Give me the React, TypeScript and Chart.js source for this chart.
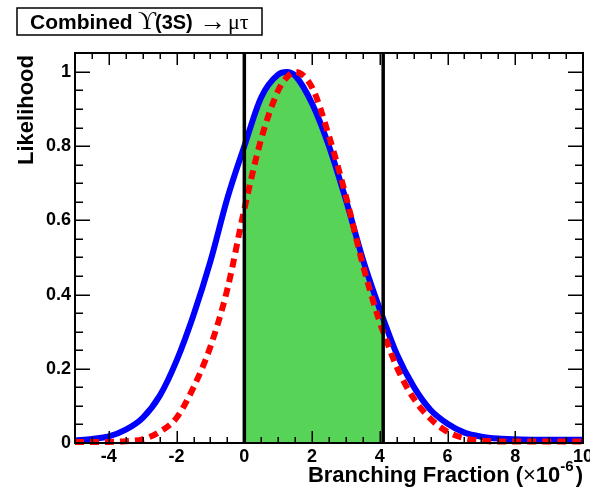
import React, { useEffect, useRef } from "react";
import { Chart, registerables } from "chart.js";

Chart.register(...registerables);

// ---- data ----
const xValues = [-5, -4.5, -4, -3.5, -3, -2.5, -2, -1.5, -1, -0.5, 0, 0.5, 1, 1.25, 1.5, 2, 2.5, 3, 3.5, 4, 4.1, 4.5, 5, 5.5, 6, 6.5, 7, 7.5, 8, 8.5, 9, 9.5, 10];
const blueLikelihood = [0.007, 0.011, 0.018, 0.036, 0.068, 0.127, 0.222, 0.345, 0.49, 0.66, 0.80, 0.932, 0.993, 1.0, 0.99, 0.915, 0.80, 0.655, 0.495, 0.36, 0.335, 0.24, 0.152, 0.089, 0.052, 0.028, 0.017, 0.012, 0.010, 0.009, 0.009, 0.009, 0.009];
const redLikelihood = [0.003, 0.003, 0.003, 0.005, 0.010, 0.030, 0.068, 0.150, 0.26, 0.415, 0.63, 0.82, 0.95, 0.985, 1.0, 0.958, 0.827, 0.665, 0.48, 0.325, 0.30, 0.205, 0.12, 0.065, 0.03, 0.013, 0.006, 0.004, 0.004, 0.004, 0.004, 0.004, 0.004];
const intervalLow = 0;
const intervalHigh = 4.1;

const xTickValues = [-4, -2, 0, 2, 4, 6, 8, 10];
const xTickLabels = ["-4", "-2", "0", "2", "4", "6", "8", "10"];
const yTickValues = [0, 0.2, 0.4, 0.6, 0.8, 1];
const yTickLabels = ["0", "0.2", "0.4", "0.6", "0.8", "1"];
const xMin = -5;
const xMax = 10;
const yMin = 0;
const yMax = 1.051;

const SANS = '"Liberation Sans", Arial, Helvetica, sans-serif';
const SERIF = '"Liberation Serif", "DejaVu Serif", "Times New Roman", serif';

const rootFramePlugin = {
  id: "rootFrame",
  afterDraw(chart: any) {
    const { ctx, chartArea: a, scales } = chart;
    const xs = scales.x;
    const ys = scales.y;
    ctx.save();
    ctx.strokeStyle = "#000";
    ctx.fillStyle = "#000";

    // ticks (inward, on all four sides)
    ctx.lineWidth = 1.5;
    ctx.beginPath();
    for (let i = 0; i <= Math.round((xMax - xMin) / 0.5); i++) {
      const v = xMin + i * 0.5;
      const px = Math.round(xs.getPixelForValue(v)) + 0.25;
      const major = Math.abs(v / 2 - Math.round(v / 2)) < 1e-9;
      const len = major ? 12 : 6;
      ctx.moveTo(px, a.bottom);
      ctx.lineTo(px, a.bottom - len);
      ctx.moveTo(px, a.top);
      ctx.lineTo(px, a.top + len);
    }
    for (let i = 0; i * 0.05 <= yMax + 1e-9; i++) {
      const v = i * 0.05;
      const py = Math.round(ys.getPixelForValue(v)) + 0.25;
      const major = i % 4 === 0;
      const len = major ? 15 : 8;
      ctx.moveTo(a.left, py);
      ctx.lineTo(a.left + len, py);
      ctx.moveTo(a.right, py);
      ctx.lineTo(a.right - len, py);
    }
    ctx.stroke();

    // frame
    ctx.lineWidth = 2;
    ctx.strokeRect(a.left, a.top, a.right - a.left, a.bottom - a.top);

    // y axis title
    ctx.save();
    ctx.translate(33, a.top + 2);
    ctx.rotate(-Math.PI / 2);
    ctx.font = `bold 22px ${SANS}`;
    ctx.textAlign = "right";
    ctx.textBaseline = "alphabetic";
    ctx.fillText("Likelihood", 0, 0);
    ctx.restore();

    // x axis title, right aligned to the frame
    const base = 481.5;
    const partMain = "Branching Fraction (";
    const partTimes = "\u00d7";
    const partTen = "10";
    const partExp = "-6";
    const partClose = ")";
    ctx.textBaseline = "alphabetic";
    ctx.textAlign = "left";
    ctx.font = `bold 22px ${SANS}`;
    const wMain = ctx.measureText(partMain).width;
    const wTen = ctx.measureText(partTen).width;
    const wClose = ctx.measureText(partClose).width;
    ctx.font = `22px ${SANS}`;
    const wTimes = ctx.measureText(partTimes).width;
    ctx.font = `bold 15px ${SANS}`;
    const wExp = ctx.measureText(partExp).width;
    let x = a.right - (wMain + wTimes + wTen + wExp + wClose + 2);
    ctx.font = `bold 22px ${SANS}`;
    ctx.fillText(partMain, x, base);
    x += wMain;
    ctx.font = `22px ${SANS}`;
    ctx.fillText(partTimes, x, base);
    x += wTimes;
    ctx.font = `bold 22px ${SANS}`;
    ctx.fillText(partTen, x, base);
    x += wTen;
    ctx.font = `bold 15px ${SANS}`;
    ctx.fillText(partExp, x, base - 11);
    x += wExp + 2;
    ctx.font = `bold 22px ${SANS}`;
    ctx.fillText(partClose, x, base);

    // title box
    ctx.lineWidth = 1.5;
    ctx.fillStyle = "#fff";
    ctx.fillRect(17, 8, 245, 27);
    ctx.strokeRect(17, 8, 245, 27);
    ctx.fillStyle = "#000";
    const tb = 28.5;
    ctx.font = `bold 21px ${SANS}`;
    ctx.fillText("Combined", 30, tb);
    ctx.font = `25px ${SERIF}`;
    ctx.fillText("\u03d2", 138, tb);
    ctx.font = `bold 20px ${SANS}`;
    ctx.fillText("(3S)", 155, tb);
    ctx.font = `27px ${SERIF}`;
    ctx.fillText("\u2192", 199, tb + 1);
    ctx.font = `22px ${SERIF}`;
    ctx.fillText("\u03bc\u03c4", 228, tb);

    ctx.restore();
  },
};

export default function App() {
  const canvasRef = useRef<HTMLCanvasElement | null>(null);

  useEffect(() => {
    const canvas = canvasRef.current;
    if (!canvas) return;

    const bluePts = xValues.map((x, i) => ({ x, y: blueLikelihood[i] }));
    const redPts = xValues.map((x, i) => ({ x, y: redLikelihood[i] }));
    const greenPts = bluePts.filter((p) => p.x >= intervalLow && p.x <= intervalHigh);
    const lowLine = [{ x: intervalLow, y: yMin }, { x: intervalLow, y: yMax }];
    const highLine = [{ x: intervalHigh, y: yMin }, { x: intervalHigh, y: yMax }];

    const chart = new Chart(canvas, {
      type: "line",
      data: {
        datasets: [
          { label: "low", data: lowLine, borderColor: "#000", borderWidth: 3.5, pointRadius: 0, fill: false, order: 0, tension: 0 },
          { label: "high", data: highLine, borderColor: "#000", borderWidth: 3.5, pointRadius: 0, fill: false, order: 0, tension: 0 },
          {
            label: "red", data: redPts, borderColor: "#ff0000", borderWidth: 6, borderDash: [9, 6],
            pointRadius: 0, fill: false, cubicInterpolationMode: "monotone", order: 1,
            clip: { left: 0, top: 0, right: 0, bottom: 6 } as any,
          },
          {
            label: "blue", data: bluePts, borderColor: "#0000ff", borderWidth: 6,
            pointRadius: 0, fill: false, cubicInterpolationMode: "monotone", order: 2,
            clip: { left: 0, top: 0, right: 0, bottom: 6 } as any,
          },
          {
            label: "green", data: greenPts, borderColor: "rgba(0,0,0,0)", borderWidth: 0,
            backgroundColor: "rgb(87,211,87)", pointRadius: 0, fill: "origin",
            cubicInterpolationMode: "monotone", order: 3,
          },
        ],
      },
      options: {
        responsive: false,
        devicePixelRatio: 1,
        animation: false,
        events: [],
        layout: { padding: { left: 0, right: 7, top: 53, bottom: 0 } },
        plugins: { legend: { display: false }, tooltip: { enabled: false }, title: { display: false } },
        scales: {
          x: {
            type: "linear",
            min: xMin,
            max: xMax,
            grid: { display: false, drawTicks: false },
            border: { display: false },
            afterBuildTicks: (s: any) => { s.ticks = xTickValues.map((v) => ({ value: v })); },
            afterFit: (s: any) => { s.height = 45; s.paddingLeft = 0; s.paddingRight = 0; },
            ticks: {
              autoSkip: false,
              maxRotation: 0,
              padding: 3,
              color: "#000",
              font: { family: SANS, size: 18, weight: "bold" },
              callback: (_v: any, i: number) => xTickLabels[i],
            },
          },
          y: {
            type: "linear",
            min: yMin,
            max: yMax,
            grid: { display: false, drawTicks: false },
            border: { display: false },
            afterBuildTicks: (s: any) => { s.ticks = yTickValues.map((v) => ({ value: v })); },
            afterFit: (s: any) => { s.width = 75; s.paddingTop = 0; s.paddingBottom = 0; },
            ticks: {
              autoSkip: false,
              padding: 4,
              color: "#000",
              font: { family: SANS, size: 18, weight: "bold" },
              callback: (_v: any, i: number) => yTickLabels[i],
            },
          },
        },
      },
      plugins: [rootFramePlugin],
    } as any);

    return () => chart.destroy();
  }, []);

  return (
    <div style={{ position: "absolute", left: 0, top: 0, width: 590, height: 488, background: "#fff" }}>
      <canvas ref={canvasRef} width={590} height={488} style={{ width: 590, height: 488, display: "block" }} />
    </div>
  );
}
